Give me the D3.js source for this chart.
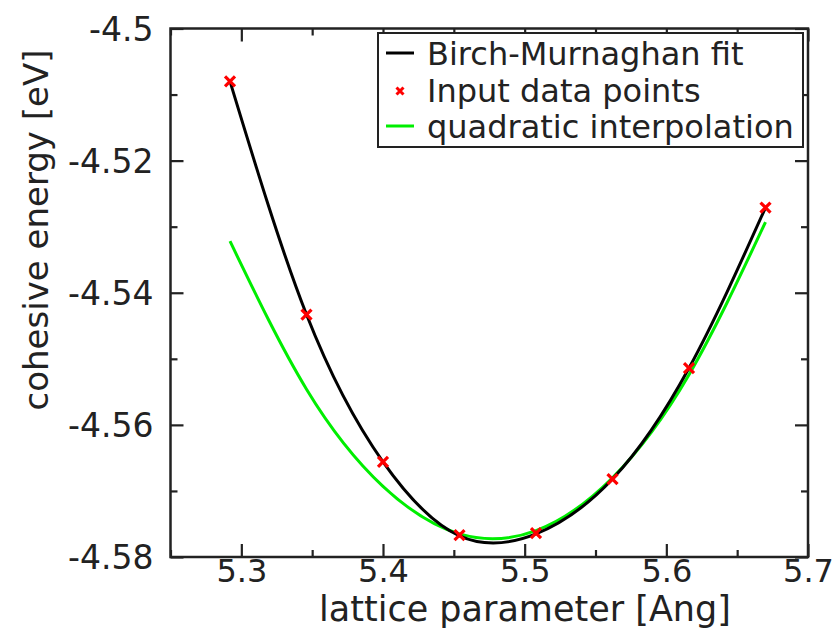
<!DOCTYPE html>
<html><head><meta charset="utf-8">
<script src="https://cdn.jsdelivr.net/npm/d3@7"></script>
<style>
html,body{margin:0;padding:0;background:#fff;}
svg{display:block;font-family:"DejaVu Sans",sans-serif;}
</style></head>
<body>
<svg id="chart" width="838" height="631"></svg>
<script>
// ---- data ----
const latticeX = [5.292, 5.346, 5.400, 5.454, 5.508, 5.562, 5.616, 5.670];
const inputE   = [-4.5080, -4.5433, -4.5656, -4.5767, -4.5764, -4.5682, -4.5514, -4.5271];
const fitX     = [5.292, 5.346, 5.400, 5.454, 5.508, 5.562, 5.616, 5.670];
const fitE     = [-4.5080, -4.5433, -4.5656, -4.5768, -4.5765, -4.5682, -4.5514, -4.5271];
const quadX    = [5.292, 5.346, 5.400, 5.454, 5.508, 5.562, 5.616, 5.670];
const quadE    = [-4.5322, -4.5546, -4.5693, -4.5765, -4.5760, -4.5680, -4.5524, -4.5293];
const xMajor   = [5.3, 5.4, 5.5, 5.6, 5.7];
const xMinor   = [5.25, 5.35, 5.45, 5.55, 5.65];
const yMajor   = [-4.58, -4.56, -4.54, -4.52, -4.5];
const yMinor   = [-4.57, -4.55, -4.53, -4.51];
const legendLabels = ["Birch-Murnaghan fit", "Input data points", "quadratic interpolation"];

const L = 170.5, R = 808, T = 28.5, B = 557;
const x = d3.scaleLinear().domain([5.25, 5.7]).range([L, R]);
const y = d3.scaleLinear().domain([-4.58, -4.5]).range([B, T]);
const svg = d3.select("#chart");
const frameColor = "#222";

function styleAxis(g){
  g.select(".domain").remove();
  g.selectAll(".tick line").attr("stroke", frameColor).attr("stroke-width", 2.2);
}
const majLen = 13, minLen = 7;
// bottom
svg.append("g").attr("transform", `translate(0,${B})`)
  .call(d3.axisBottom(x).tickValues(xMajor).tickSize(-majLen).tickFormat(d3.format(".1f")))
  .call(styleAxis)
  .call(g => g.selectAll("text").attr("dy", null).attr("y", 25).attr("fill", "#222")
      .attr("font-size", 32).attr("font-family", "DejaVu Sans"));
svg.append("g").attr("transform", `translate(0,${B})`)
  .call(d3.axisBottom(x).tickValues(xMinor).tickSize(-minLen).tickFormat(""))
  .call(styleAxis);
// top
svg.append("g").attr("transform", `translate(0,${T})`)
  .call(d3.axisTop(x).tickValues(xMajor).tickSize(-majLen).tickFormat(""))
  .call(styleAxis);
svg.append("g").attr("transform", `translate(0,${T})`)
  .call(d3.axisTop(x).tickValues(xMinor).tickSize(-minLen).tickFormat(""))
  .call(styleAxis);
// left
svg.append("g").attr("transform", `translate(${L},0)`)
  .call(d3.axisLeft(y).tickValues(yMajor).tickSize(-majLen).tickFormat(d => String(+d.toFixed(2))))
  .call(styleAxis)
  .call(g => g.selectAll("text").attr("x", -17).attr("dy", "0.36em").attr("fill", "#222")
      .attr("font-size", 33).attr("font-family", "DejaVu Sans"));
svg.append("g").attr("transform", `translate(${L},0)`)
  .call(d3.axisLeft(y).tickValues(yMinor).tickSize(-minLen).tickFormat(""))
  .call(styleAxis);
// right
svg.append("g").attr("transform", `translate(${R},0)`)
  .call(d3.axisRight(y).tickValues(yMajor).tickSize(-majLen).tickFormat(""))
  .call(styleAxis);
svg.append("g").attr("transform", `translate(${R},0)`)
  .call(d3.axisRight(y).tickValues(yMinor).tickSize(-minLen).tickFormat(""))
  .call(styleAxis);

// frame
svg.append("rect").attr("x", L).attr("y", T).attr("width", R - L).attr("height", B - T)
  .attr("fill", "none").attr("stroke", frameColor).attr("stroke-width", 2.5);

// curves
const line = d3.line().x(d => x(d[0])).y(d => y(d[1])).curve(d3.curveNatural);
svg.append("path").datum(quadX.map((v, i) => [v, quadE[i]]))
  .attr("d", line).attr("fill", "none").attr("stroke", "#00ee00").attr("stroke-width", 3);
svg.append("path").datum(fitX.map((v, i) => [v, fitE[i]]))
  .attr("d", line).attr("fill", "none").attr("stroke", "#000").attr("stroke-width", 3);

// markers
function xMark(g, cx, cy, r, w){
  g.append("path").attr("d", `M${cx-r},${cy-r}L${cx+r},${cy+r}M${cx-r},${cy+r}L${cx+r},${cy-r}`)
    .attr("stroke", "#ff0000").attr("stroke-width", w).attr("fill", "none");
}
const mk = svg.append("g");
latticeX.forEach((v, i) => xMark(mk, x(v), y(inputE[i]), 5, 3.2));

// legend
const lg = svg.append("g");
lg.append("rect").attr("x", 378).attr("y", 33).attr("width", 425).attr("height", 114)
  .attr("fill", "#fff").attr("stroke", frameColor).attr("stroke-width", 2);
const rowsY = [53, 90, 126];
lg.append("line").attr("x1", 386).attr("x2", 414).attr("y1", rowsY[0]).attr("y2", rowsY[0])
  .attr("stroke", "#000").attr("stroke-width", 3);
xMark(lg, 400, rowsY[1] + 1, 3.5, 3);
lg.append("line").attr("x1", 386).attr("x2", 414).attr("y1", rowsY[2]).attr("y2", rowsY[2])
  .attr("stroke", "#00ee00").attr("stroke-width", 3);
legendLabels.forEach((t, i) => {
  lg.append("text").attr("x", 427).attr("y", rowsY[i]).attr("dy", "0.36em")
    .attr("font-size", 32).attr("fill", "#222").text(t);
});

// axis titles
svg.append("text").attr("x", 525).attr("y", 621).attr("text-anchor", "middle")
  .attr("font-size", 35).attr("fill", "#222").text("lattice parameter [Ang]");
svg.append("text").attr("transform", `translate(48,230) rotate(-90)`).attr("text-anchor", "middle")
  .attr("font-size", 34).attr("fill", "#222").text("cohesive energy [eV]");
</script>
</body></html>
